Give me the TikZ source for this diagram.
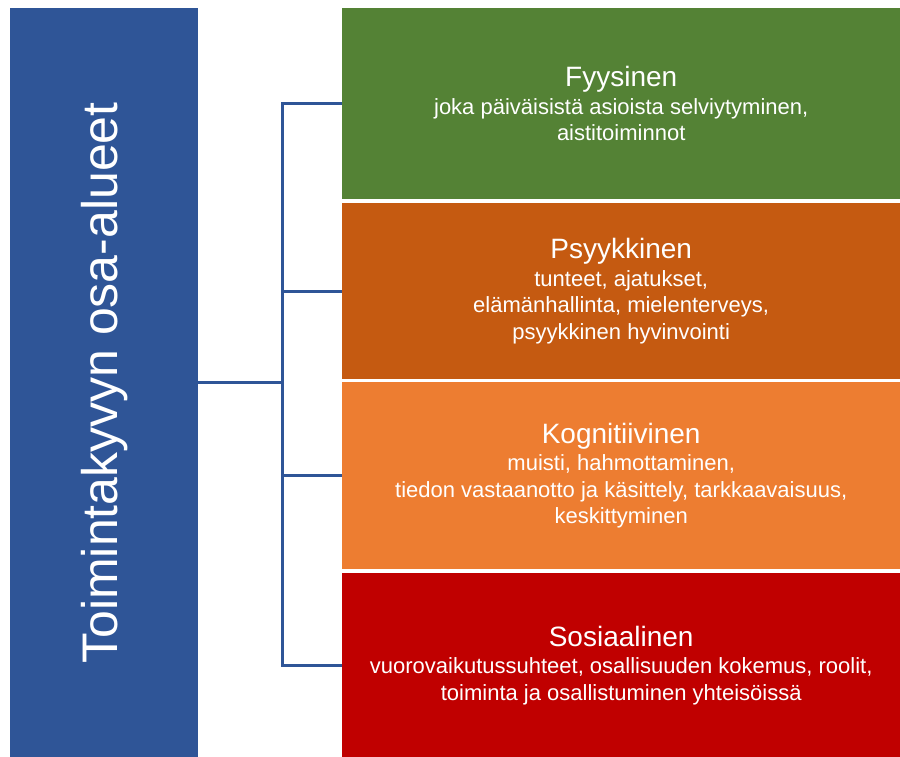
\documentclass[tikz,border=0pt]{standalone}
\usepackage{fontspec}
\setmainfont{Liberation Sans}
\usepackage{xcolor}

\definecolor{areablue}{HTML}{2F5597}
\definecolor{areagreen}{HTML}{548235}
\definecolor{areabrown}{HTML}{C55A11}
\definecolor{areaorange}{HTML}{ED7D31}
\definecolor{areared}{HTML}{C00000}

\newcommand{\areatitle}[1]{{\fontsize{28}{30}\selectfont #1}\\[1pt]}

\tikzset{
  areabox/.style={anchor=north west, minimum width=558pt, inner sep=0pt,
    text=white, align=center, font=\fontsize{22}{26.5}\selectfont},
  link/.style={draw=areablue, line width=3pt}
}

\begin{document}
\begin{tikzpicture}[x=1pt,y=-1pt]
        % Page frame
        \useasboundingbox (0,0) rectangle (900,757);
        % Overview box on the left
        \node [fill=areablue, minimum width=188pt, minimum height=749pt, inner sep=0pt] (overview) at (104,382.5) {};
        \node [rotate=90, text=white, font=\fontsize{50}{54}\selectfont] (overviewtext) at (105,383) {Toimintakyvyn osa-alueet};
        % Area boxes on the right
        \node [areabox, fill=areagreen, minimum height=191pt] (fyysinen) at (342,8) {\areatitle{Fyysinen}joka päiväisistä asioista selviytyminen,\\aistitoiminnot};
        \node [areabox, fill=areabrown, minimum height=176pt] (psyykkinen) at (342,203) {\areatitle{Psyykkinen}tunteet, ajatukset,\\elämänhallinta, mielenterveys,\\psyykkinen hyvinvointi};
        \node [areabox, fill=areaorange, minimum height=187pt] (kognitiivinen) at (342,382) {\areatitle{Kognitiivinen}muisti, hahmottaminen,\\tiedon vastaanotto ja käsittely, tarkkaavaisuus,\\keskittyminen};
        \node [areabox, fill=areared, minimum height=184pt] (sosiaalinen) at (342,573) {\areatitle{Sosiaalinen}vuorovaikutussuhteet, osallisuuden kokemus, roolit,\\toiminta ja osallistuminen yhteisöissä};
        % Connectors
        \coordinate (spine) at (282,0);
        \draw [link] (overview.east) -- (overview.east -| spine);
        \draw [link, line cap=rect] (fyysinen.west -| spine) -- (sosiaalinen.west -| spine);
        \foreach \area in {fyysinen,psyykkinen,kognitiivinen,sosiaalinen}
            \draw [link] (\area.west -| spine) -- (\area.west);
\end{tikzpicture}
\end{document}
